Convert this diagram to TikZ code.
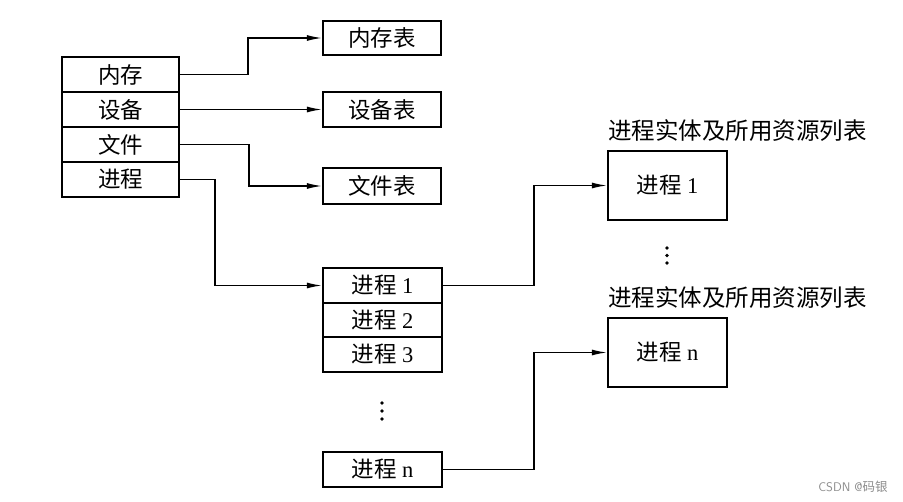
\documentclass[tikz,border=0pt]{standalone}
\usepackage{fontspec}
\setmainfont{Liberation Serif}
\newfontfamily\cjk{Noto Sans CJK SC}
\usetikzlibrary{arrows.meta}
\begin{document}
\begin{tikzpicture}[x=1pt,y=-1pt,
  cell/.style={draw,line width=2.2pt,minimum width=118pt,minimum height=35pt,inner sep=0pt,anchor=center,font=\fontsize{22.5}{26}\selectfont},
  bigbox/.style={draw,line width=2.2pt,minimum width=119pt,minimum height=69pt,inner sep=0pt,anchor=center,font=\fontsize{22.5}{26}\selectfont},
  lbl/.style={anchor=west,inner sep=0pt,font=\fontsize{23.5}{26}\selectfont\cjk},
  conn/.style={line width=1.4pt,-{Latex[length=15pt,width=6pt]}},
  dot/.style={fill=black,circle,inner sep=0pt,minimum size=3.6pt}]
\useasboundingbox[fill=white] (0,0) rectangle (903,502);
% left stack
\node[cell,minimum width=117pt] (mem)  at (120.5,74.5) {\cjk 内存};
\node[cell,minimum width=117pt] (dev)  at (120.5,109.5) {\cjk 设备};
\node[cell,minimum width=117pt] (file) at (120.5,144.5) {\cjk 文件};
\node[cell,minimum width=117pt] (proc) at (120.5,179.5) {\cjk 进程};
% tables
\node[cell,minimum height=34pt] (memt)  at (382,38) {\cjk 内存表};
\node[cell] (devt)  at (382,109.5) {\cjk 设备表};
\node[cell,minimum height=36pt] (filet) at (382,186) {\cjk 文件表};
% process table
\node[cell,minimum width=119pt] (p1) at (382.5,285.5) {{\cjk 进程} 1};
\node[cell,minimum width=119pt,minimum height=34pt] (p2) at (382.5,320) {{\cjk 进程} 2};
\node[cell,minimum width=119pt] (p3) at (382.5,354.5) {{\cjk 进程} 3};
\node[cell,minimum width=119pt] (pn) at (382.5,469.5) {{\cjk 进程} n};
\node[dot] (d1) at (382,403) {};
\node[dot] (d2) at (382,411) {};
\node[dot] (d3) at (382,419) {};
% right boxes
\node[lbl] (l1) at (608,131) {进程实体及所用资源列表};
\node[bigbox] (r1) at (667.5,185.5) {{\cjk 进程} 1};
\node[dot] (e1) at (667,248) {};
\node[dot] (e2) at (667,255.5) {};
\node[dot] (e3) at (667,263) {};
\node[lbl] (l2) at (608,298) {进程实体及所用资源列表};
\node[bigbox] (rn) at (667.5,352.5) {{\cjk 进程} n};
% connectors
\draw[conn] (mem.east) -- ++(68,0) |- (memt.west);
\draw[conn] (dev.east) -- (devt.west);
\draw[conn] (file.east) -- ++(69,0) |- (filet.west);
\draw[conn] (proc.east) -- ++(35,0) |- (p1.west);
\draw[conn] (p1.east) -- ++(91,0) |- (r1.west);
\draw[conn] (pn.east) -- ++(91,0) |- (rn.west);
% watermark
\node[anchor=center,inner sep=0pt,text=black!45,font=\fontsize{12.5}{14}\selectfont\sffamily] (wm) at (853,487) {CSDN @{\cjk 码银}};
\end{tikzpicture}
\end{document}
